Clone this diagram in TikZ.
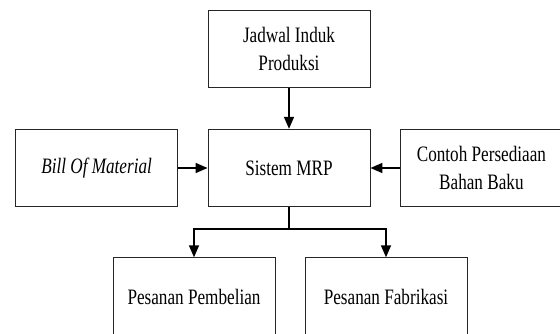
\documentclass[tikz,border=0pt]{standalone}
\usepackage{fontspec}
\setmainfont{Liberation Serif}[FakeStretch=0.78]
\usetikzlibrary{arrows.meta}
\begin{document}
\begin{tikzpicture}[x=1pt,y=-1pt,
  box/.style={draw=black!85, line width=0.9pt, minimum width=162pt, minimum height=77.5pt,
    inner sep=0pt, align=center, font=\fontsize{22}{28.4}\selectfont},
  conn/.style={line width=1.6pt, -{Triangle[length=12pt,width=10pt]}},
  plain/.style={line width=1.6pt}]
\useasboundingbox (0,0) rectangle (560,334);
\clip (0,0) rectangle (560,334);
\node[box] (jip) at (289,48.75) {Jadwal Induk\\Produksi};
\node[box] (mrp) at (289,168) {Sistem MRP};
\node[box] (bom) at (96.6,168) {\textit{Bill Of Material}};
\node[box] (cpb) at (481.4,168) {Contoh Persediaan\\Bahan Baku};
\node[box] (pp) at (194,296.5) {Pesanan Pembelian};
\node[box] (pf) at (386,296.5) {Pesanan Fabrikasi};
\draw[conn] (jip) -- (mrp);
\draw[conn] (bom) -- (mrp);
\draw[conn] (cpb) -- (mrp);
\draw[plain] (mrp.south) -- ++(0,21.5) coordinate (split);
\draw[conn] (split) -| (pp);
\draw[conn] (split) -| (pf);
\end{tikzpicture}
\end{document}
